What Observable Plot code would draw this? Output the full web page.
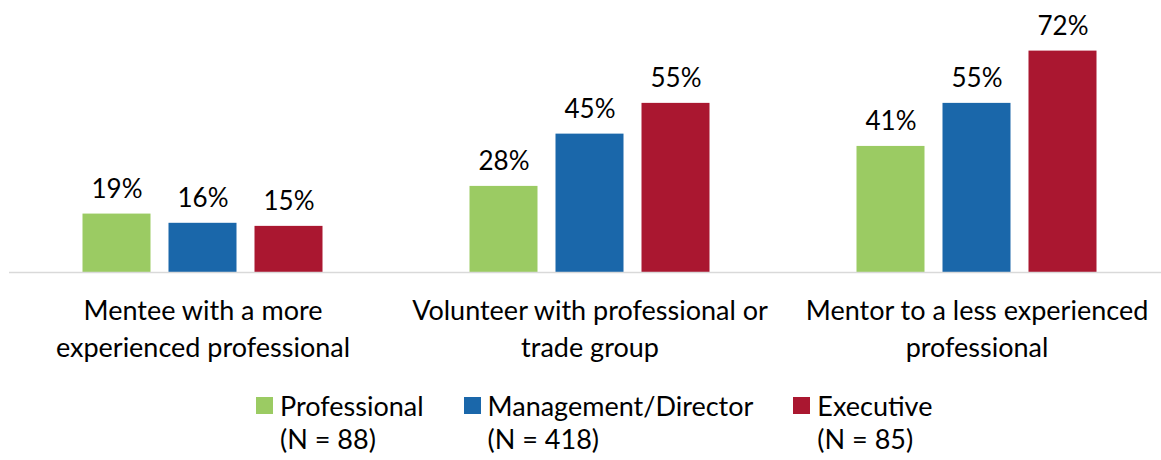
<!DOCTYPE html>
<html><head><meta charset="utf-8">
<script src="https://cdn.jsdelivr.net/npm/d3@7"></script>
<script src="https://cdn.jsdelivr.net/npm/@observablehq/plot@0.6"></script>
<style>
body{margin:0;background:#fff;font-family:Lato, sans-serif;color:#000;}
#chart svg{display:block;overflow:visible;}
#legend{display:flex;margin-left:256px;margin-top:9px;font-size:27px;line-height:33px;}
.item{display:flex;align-items:flex-start;margin-right:40px;}
.sw{width:17px;height:17px;margin-top:8px;margin-right:7px;flex:none;}
</style></head><body><div id="chart"></div><div id="legend"></div>
<script>
const categories = ["Mentee with a more\nexperienced professional", "Volunteer with professional or\ntrade group", "Mentor to a less experienced\nprofessional"];
const series = ["Professional", "Management/Director", "Executive"];
const seriesN = ["(N = 88)", "(N = 418)", "(N = 85)"];
const professional = [19, 28, 41];
const management = [16, 45, 55];
const executive = [15, 55, 72];
const colors = ["#9BCB63", "#1A67AA", "#AA1730"];

const seriesValues = [professional, management, executive];
const data = categories.flatMap((c, i) => series.map((s, j) => ({cat: c, s, v: seriesValues[j][i]})));

const chart = Plot.plot({
  width: 1161, height: 380,
  marginLeft: 8.5, marginRight: -8.5, marginTop: 26, marginBottom: 108,
  fx: {domain: categories, padding: 0, label: null},
  x: {domain: series, paddingInner: 0.21, paddingOuter: 0.855, axis: null},
  y: {domain: [0, 80], axis: null},
  color: {domain: series, range: colors},
  style: {fontFamily: "Lato, sans-serif", color: "#000", background: "#fff"},
  marks: [
    Plot.barY(data, {fx: "cat", x: "s", y: "v", fill: "s"}),
    Plot.ruleY([0], {stroke: "#d9d9d9", strokeWidth: 1.5}),
    Plot.text(data, {fx: "cat", x: "s", y: "v", text: d => d.v + "%", lineAnchor: "bottom", dy: -16, fontSize: 26, fill: "#000"}),
    Plot.axisFx({anchor: "bottom", tickSize: 0, tickPadding: 21.5, fontSize: 27, lineHeight: 1.37, label: null, fill: "#000"})
  ]
});
document.getElementById("chart").appendChild(chart);

const legend = document.getElementById("legend");
series.forEach((s, i) => {
  const item = document.createElement("div");
  item.className = "item";
  item.innerHTML = `<div class="sw" style="background:${colors[i]}"></div><div>${s}<br>${seriesN[i]}</div>`;
  legend.appendChild(item);
});
</script></body></html>
